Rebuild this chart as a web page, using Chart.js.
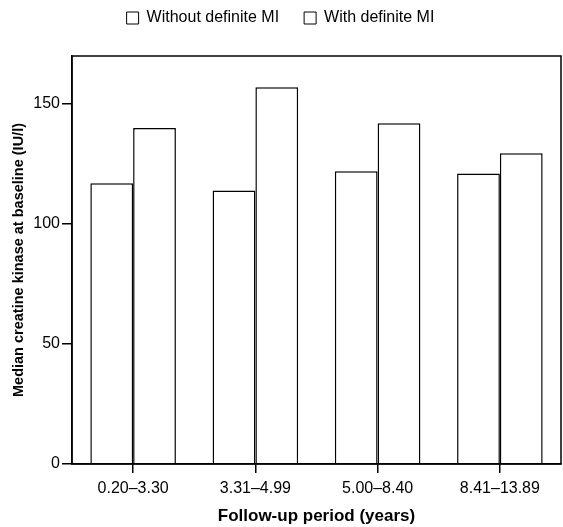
<!DOCTYPE html>
<html>
<head>
<meta charset="utf-8">
<script src="https://cdn.jsdelivr.net/npm/chart.js@4"></script>
<style>
  html, body { margin: 0; padding: 0; background: #fff; }
  #wrap { width: 563px; height: 527px; }
</style>
</head>
<body>
<div id="wrap"><canvas id="chartCK"></canvas></div>
<script>
// datos
var periods = ['0.20\u20133.30', '3.31\u20134.99', '5.00\u20138.40', '8.41\u201313.89'];
var withoutMI = [117, 114, 122, 121];
var withMI = [140, 157, 142, 129.5];
var yTicks = [0, 50, 100, 150];

var fontFam = "'Liberation Sans', Arial, Helvetica, sans-serif";

// marco alrededor del área del gráfico (arriba y derecha)
var framePlugin = {
    id: 'frame',
    afterDatasetsDraw: function (chart) {
        var a = chart.chartArea;
        var ctx = chart.ctx;
        ctx.save();
        ctx.strokeStyle = '#000';
        ctx.lineWidth = 1.5;
        ctx.strokeRect(a.left, a.top, a.right - a.left, a.bottom - a.top);
        ctx.restore();
    }
};

// espacio extra debajo de la leyenda
var legendMargin = {
    id: 'legendMargin',
    beforeInit: function (chart) {
        var fitValue = chart.legend.fit;
        chart.legend.fit = function fit() {
            fitValue.bind(chart.legend)();
            this.height += 20;
        };
    }
};

var ctx = document.getElementById('chartCK').getContext('2d');
var chartCK = new Chart(ctx, {
    type: 'bar',
    data: {
        labels: periods,
        datasets: [{
            label: 'Without definite MI',
            data: withoutMI,
            backgroundColor: '#fff',
            borderColor: '#000',
            borderWidth: 1.5
        }, {
            label: 'With definite MI',
            data: withMI,
            backgroundColor: '#fff',
            borderColor: '#000',
            borderWidth: 1.5
        }]
    },
    options: {
        responsive: true,
        maintainAspectRatio: false,
        animation: false,
        layout: { padding: { top: -15, right: 2, left: 0, bottom: 0 } },
        datasets: { bar: { barPercentage: 1, categoryPercentage: 0.7 } },
        plugins: {
            legend: {
                position: 'top',
                labels: {
                    color: '#000',
                    boxWidth: 12,
                    boxHeight: 12,
                    padding: 25,
                    font: { family: fontFam, size: 16 },
                    generateLabels: function (chart) {
                        return chart.data.datasets.map(function (ds, i) {
                            return {
                                text: ds.label,
                                fillStyle: '#fff',
                                strokeStyle: '#000',
                                lineWidth: 1,
                                fontColor: '#000',
                                datasetIndex: i
                            };
                        });
                    }
                }
            },
            tooltip: { enabled: false }
        },
        scales: {
            x: {
                grid: {
                    display: true,
                    offset: false,
                    drawOnChartArea: false,
                    drawTicks: true,
                    tickLength: 9,
                    color: '#000',
                    lineWidth: 1.5
                },
                border: { display: true, color: '#000', width: 1.5 },
                ticks: {
                    color: '#000',
                    padding: 6,
                    maxRotation: 0,
                    font: { family: fontFam, size: 16 }
                },
                title: {
                    display: true,
                    text: 'Follow-up period (years)',
                    color: '#000',
                    font: { family: fontFam, size: 17, weight: 'bold' },
                    padding: { top: 10, bottom: 0 }
                },
                afterFit: function (scale) { scale.height = 63; }
            },
            y: {
                min: 0,
                max: 170,
                afterBuildTicks: function (scale) {
                    scale.ticks = yTicks.map(function (v) { return { value: v }; });
                },
                grid: {
                    display: true,
                    drawOnChartArea: false,
                    drawTicks: true,
                    tickLength: 10,
                    color: '#000',
                    lineWidth: 1.5
                },
                border: { display: true, color: '#000', width: 1.5 },
                ticks: {
                    color: '#000',
                    padding: 2,
                    font: { family: fontFam, size: 16 }
                },
                title: {
                    display: true,
                    text: 'Median creatine kinase at baseline (IU/l)',
                    color: '#000',
                    font: { family: fontFam, size: 14.5, weight: 'bold' },
                    padding: { top: 10, bottom: 6 }
                },
                afterFit: function (scale) { scale.width = 72; }
            }
        }
    },
    plugins: [framePlugin, legendMargin]
});
</script>
</body>
</html>
